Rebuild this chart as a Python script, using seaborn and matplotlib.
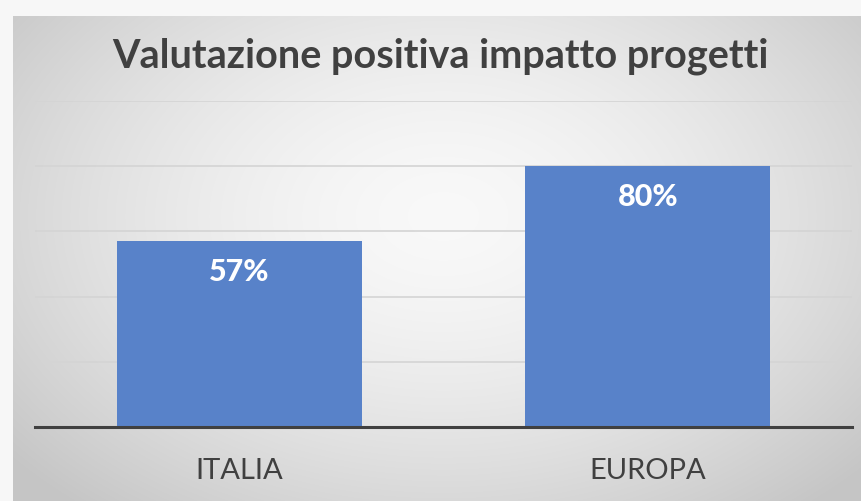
import numpy as np
import pandas as pd
import matplotlib.pyplot as plt
import seaborn as sns

categories = ["ITALIA", "EUROPA"]
values = [57, 80]
labels = ["57%", "80%"]

df = pd.DataFrame({"area": categories, "valore": values})

sns.set_style("white")
plt.rcParams["font.family"] = ["Lato", "DejaVu Sans"]

fig = plt.figure(figsize=(8.61, 5.01), dpi=100)
fig.patch.set_facecolor("#f7f7f7")

# radial grey background panel
bg = fig.add_axes([13 / 861, 0, 1 - 13 / 861, 1 - 16 / 501], zorder=0)
h, w = 485, 848
yy, xx = np.mgrid[0:h, 0:w]
r = np.sqrt(((xx - 430) / 560) ** 2 + ((yy - 200) / 380) ** 2)
r = np.clip(r, 0, 1)
shade = 0.975 - 0.20 * r ** 1.6
img = np.dstack([shade, shade, shade])
bg.imshow(img, aspect="auto", interpolation="bilinear")
bg.axis("off")

ax = fig.add_axes([35 / 861, 74 / 501, 817 / 861, 326 / 501], zorder=1)
ax.patch.set_alpha(0)
sns.barplot(data=df, x="area", y="valore", color="#5882c9", width=0.6,
            saturation=1, linewidth=0, ax=ax, zorder=2)
ax.set_ylim(0, 100)
ax.set_yticks([20, 40, 60, 80, 100])
ax.yaxis.grid(True, color="#d4d4d4", linewidth=1.2, zorder=0)
ax.set_axisbelow(True)
for side in ["top", "right", "left"]:
    ax.spines[side].set_visible(False)
ax.spines["bottom"].set_color("#404040")
ax.spines["bottom"].set_linewidth(2.2)
ax.tick_params(axis="y", length=0, labelleft=False)
ax.tick_params(axis="x", length=0, pad=22, labelsize=21, labelcolor="#404040")
ax.set_xlabel("")
ax.set_ylabel("")

for i, (v, lab) in enumerate(zip(values, labels)):
    ax.text(i, v - 9.5, lab, ha="center", va="center", color="white",
            fontsize=22, fontweight="black")

fig.text(0.511, 0.888, "Valutazione positiva impatto progetti", ha="center",
         va="center", fontsize=28.5, fontweight="bold", color="#404040")

plt.savefig("out.png", dpi=100)
